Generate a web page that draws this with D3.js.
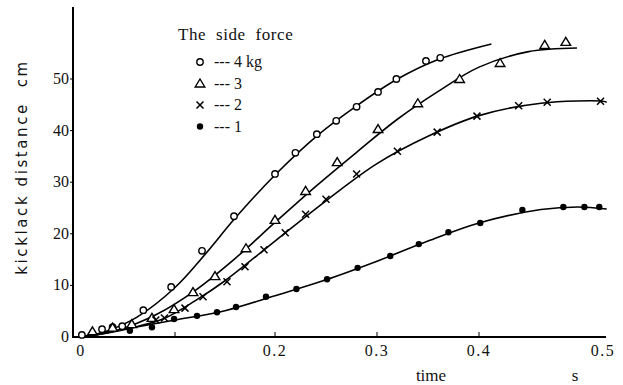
<!DOCTYPE html>
<html>
<head>
<meta charset="utf-8">
<script src="https://cdn.jsdelivr.net/npm/d3@7"></script>
<style>
  body { margin: 0; background: #fff; }
  svg text { fill: #111; }
</style>
</head>
<body>
<div id="chart"></div>
<script>
// measured points, time (s) vs kickback distance (cm)
const x4 = [0.003, 0.024, 0.035, 0.045, 0.067, 0.096, 0.127, 0.159, 0.200, 0.220, 0.241, 0.260, 0.280, 0.301, 0.319, 0.348, 0.362];
const y4 = [0.4, 1.5, 1.9, 2.1, 5.2, 9.7, 16.7, 23.4, 31.6, 35.7, 39.3, 41.9, 44.6, 47.5, 50.0, 53.5, 54.1];

const x3 = [0.014, 0.035, 0.055, 0.076, 0.099, 0.118, 0.140, 0.171, 0.200, 0.230, 0.261, 0.301, 0.340, 0.381, 0.417, 0.453, 0.470];
const y3 = [1.1, 1.8, 2.5, 3.7, 5.4, 8.7, 11.8, 17.2, 22.7, 28.3, 33.9, 40.3, 45.3, 50.0, 53.1, 56.6, 57.2];

const x2 = [0.080, 0.089, 0.110, 0.128, 0.152, 0.170, 0.189, 0.210, 0.230, 0.250, 0.280, 0.320, 0.359, 0.398, 0.432, 0.455, 0.498];
const y2 = [3.3, 3.7, 5.6, 7.8, 10.7, 13.6, 16.9, 20.2, 23.8, 26.7, 31.6, 36.0, 39.7, 42.8, 44.8, 45.5, 45.7];

const x1 = [0.053, 0.076, 0.099, 0.122, 0.142, 0.161, 0.191, 0.221, 0.251, 0.281, 0.313, 0.341, 0.370, 0.401, 0.435, 0.468, 0.485, 0.497];
const y1 = [1.2, 1.9, 3.5, 4.1, 4.8, 5.8, 7.8, 9.3, 11.2, 13.4, 15.7, 18.0, 20.3, 22.1, 24.6, 25.2, 25.2, 25.2];

// fitted curves drawn through the points
const cx4 = [0, 0.015, 0.03, 0.06, 0.1, 0.13, 0.16, 0.2, 0.24, 0.28, 0.32, 0.36, 0.41];
const cy4 = [0, 0.4, 1.2, 3.8, 9.6, 16.0, 23.0, 31.4, 38.8, 44.8, 50.0, 53.8, 56.8];

const cx3 = [0, 0.02, 0.04, 0.08, 0.12, 0.16, 0.2, 0.24, 0.28, 0.32, 0.36, 0.4, 0.44, 0.479];
const cy3 = [0, 0.5, 1.3, 4.3, 9.0, 15.2, 22.2, 29.2, 35.8, 42.2, 47.6, 52.3, 55.3, 56.0];

const cx2 = [0, 0.03, 0.06, 0.09, 0.12, 0.15, 0.2, 0.25, 0.3, 0.35, 0.4, 0.45, 0.5, 0.503];
const cy2 = [0, 0.8, 2.0, 3.7, 7.0, 10.9, 18.6, 26.4, 33.6, 38.9, 42.9, 45.3, 45.7, 45.5];

const cx1 = [0, 0.05, 0.1, 0.15, 0.2, 0.25, 0.3, 0.35, 0.4, 0.45, 0.48, 0.503];
const cy1 = [0, 1.6, 3.3, 5.1, 8.0, 11.1, 14.7, 18.6, 22.1, 24.7, 25.2, 24.8];

const xTicks = [0, 0.1, 0.2, 0.3, 0.4, 0.5];
const xTickLabels = ["0", "", "0.2", "0.3", "0.4", "0.5"];
const yTicks = [0, 10, 20, 30, 40, 50];
const legendLabels = ["4 kg", "3", "2", "1"];

const width = 623, height = 385;

const svg = d3.select("#chart").append("svg")
    .attr("width", width)
    .attr("height", height);

// the hand drawn axis is not quite even, so a polylinear scale follows the ticks
const x = d3.scaleLinear()
    .domain(xTicks)
    .range([79, 175, 275, 377, 479, 603]);
const y = d3.scaleLinear()
    .domain([0, 50])
    .range([337, 79]);

// axes
svg.append("line")
    .attr("x1", 73).attr("x2", 73)
    .attr("y1", 7).attr("y2", 338)
    .attr("stroke", "#000").attr("stroke-width", 2);
svg.append("line")
    .attr("x1", 72).attr("x2", 606)
    .attr("y1", 337).attr("y2", 337)
    .attr("stroke", "#000").attr("stroke-width", 2);

svg.append("g").selectAll("line")
    .data(yTicks.slice(1))
    .enter().append("line")
    .attr("x1", 70).attr("x2", 73)
    .attr("y1", d => y(d)).attr("y2", d => y(d))
    .attr("stroke", "#000");
svg.append("g").selectAll("text")
    .data(yTicks)
    .enter().append("text")
    .attr("x", 69)
    .attr("y", d => y(d) + 5)
    .attr("text-anchor", "end")
    .attr("font-family", "Liberation Serif")
    .attr("font-size", 16)
    .text(d => d);

svg.append("g").selectAll("line")
    .data(xTicks.slice(1, 5))
    .enter().append("line")
    .attr("x1", d => x(d)).attr("x2", d => x(d))
    .attr("y1", 332).attr("y2", 337)
    .attr("stroke", "#000");
svg.append("g").selectAll("text")
    .data(xTicks)
    .enter().append("text")
    .attr("x", (d, i) => i == 0 ? 81 : x(d))
    .attr("y", 356)
    .attr("text-anchor", "middle")
    .attr("font-family", "Liberation Serif")
    .attr("font-size", 16)
    .attr("letter-spacing", 1.5)
    .text((d, i) => xTickLabels[i]);

svg.append("text")
    .attr("x", 431).attr("y", 381)
    .attr("text-anchor", "middle")
    .attr("font-family", "Liberation Serif")
    .attr("font-size", 17)
    .text("time");
svg.append("text")
    .attr("x", 575).attr("y", 381)
    .attr("text-anchor", "middle")
    .attr("font-family", "Liberation Serif")
    .attr("font-size", 17)
    .text("s");

svg.append("text")
    .attr("transform", "translate(27,167) rotate(-90)")
    .attr("text-anchor", "middle")
    .attr("font-family", "DejaVu Sans")
    .attr("font-size", 15)
    .attr("letter-spacing", 2.6)
    .attr("xml:space", "preserve")
    .text("kicklack distance  cm");

// curves
const line = d3.line()
    .x(d => x(d[0]))
    .y(d => y(d[1]))
    .curve(d3.curveCatmullRom.alpha(0.5));

[[cx4, cy4], [cx3, cy3], [cx2, cy2], [cx1, cy1]].forEach(([cx, cy]) => {
    svg.append("path")
        .datum(cx.map((v, i) => [v, cy[i]]))
        .attr("d", line)
        .attr("fill", "none")
        .attr("stroke", "#000")
        .attr("stroke-width", 1.6);
});

// markers
function drawMarker(g, kind) {
    if (kind == 0)
        g.append("circle").attr("r", 3.2).attr("fill", "#fff")
            .attr("stroke", "#000").attr("stroke-width", 1.4);
    else if (kind == 1)
        g.append("path").attr("d", "M0,-4.5L4.8,3.5L-4.8,3.5Z").attr("fill", "#fff")
            .attr("stroke", "#000").attr("stroke-width", 1.4);
    else if (kind == 2)
        g.append("path").attr("d", "M-3.5,-3.5L3.5,3.5M3.5,-3.5L-3.5,3.5")
            .attr("stroke", "#000").attr("stroke-width", 1.5);
    else
        g.append("circle").attr("r", 3.2).attr("fill", "#000");
}

[[x4, y4], [x3, y3], [x2, y2], [x1, y1]].forEach(([xs, ys], k) => {
    svg.append("g").selectAll("g")
        .data(xs.map((v, i) => [v, ys[i]]))
        .enter().append("g")
        .attr("transform", d => `translate(${x(d[0])},${y(d[1])})`)
        .each(function() { drawMarker(d3.select(this), k); });
});

// legend
svg.append("text")
    .attr("x", 178).attr("y", 40)
    .attr("font-family", "Liberation Serif")
    .attr("font-size", 17)
    .attr("letter-spacing", 0.6)
    .attr("xml:space", "preserve")
    .text("The  side  force");

const legend = svg.append("g").selectAll("g")
    .data(legendLabels)
    .enter().append("g")
    .attr("transform", (d, i) => `translate(200,${62 + i * 21.5})`);
legend.each(function(d, i) { drawMarker(d3.select(this), i); });
legend.append("text")
    .attr("x", 14).attr("y", 5)
    .attr("font-family", "Liberation Serif")
    .attr("font-size", 16)
    .text(d => "--- " + d);
</script>
</body>
</html>
